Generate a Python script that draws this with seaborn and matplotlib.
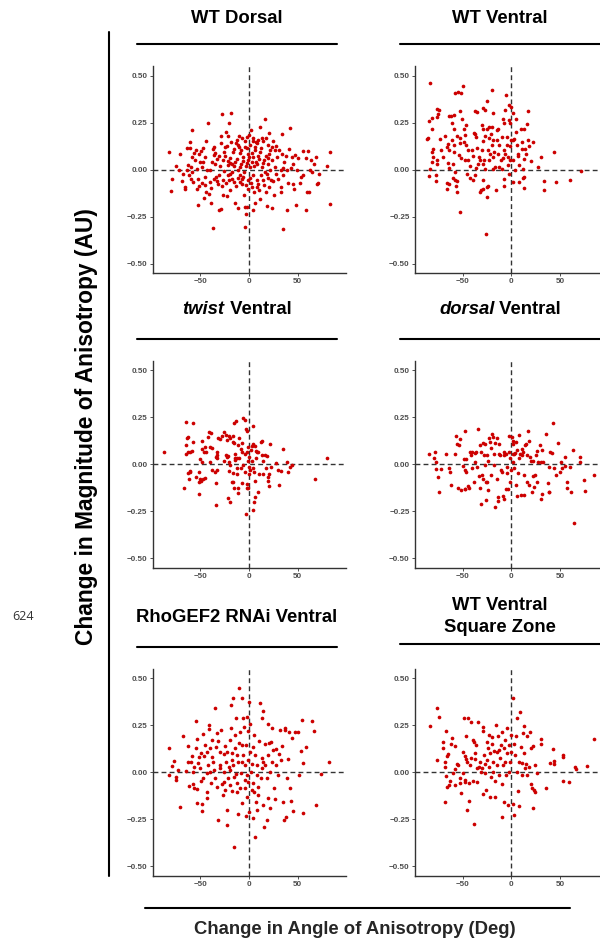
import matplotlib
matplotlib.use("Agg")
import pandas as pd
import seaborn as sns
from matplotlib import pyplot as plt
from matplotlib.lines import Line2D

# (change in angle [deg], change in magnitude [AU])
wt_dorsal = [
    (-82, 0.094), (-80, -0.114), (-79, -0.052), (-75, 0.021), (-71, 0.082), (-69, -0.06), (-66, -0.09),
    (-66, -0.1), (-63.5, 0.117), (-61, 0.15), (-61, 0.117), (-58, 0.213), (-63, 0.023), (-60, 0.014),
    (-58, -0.012), (-62, -0.03), (-57, -0.067), (-52.5, -0.19), (-54, 0.103), (-51, 0.084), (-49.5, 0.1),
    (-47, 0.114), (-44, 0.151), (-42, 0.246), (-47, 0.043), (-52, -0.052), (-51, -0.085), (-48.5, -0.073),
    (-44, -0.116), (-46, -0.151), (-41, -0.128), (-39, -0.176), (-37, -0.308), (-39, -0.096), (-37, 0.11),
    (-35.5, 0.078), (-34.5, 0.032), (-34, -0.039), (-32, -0.078), (-31, -0.217), (-29, -0.208), (-28, 0.294),
    (-27, -0.135), (-29, 0.178), (-24, 0.2), (-21, 0.249), (-18, 0.299), (-22, 0.18), (-23, 0.128),
    (-22, 0.046), (-25.6, -0.005), (-20.5, -0.057), (-19, -0.11), (-23, -0.141), (-14, -0.176), (-11, -0.206),
    (-10.6, 0.181), (-11.6, 0.132), (-13.7, 0.142), (-16, 0.093), (-14, 0.041), (-9.6, 0.016), (-8.9, -0.03),
    (-7, -0.077), (-5, -0.137), (-4, -0.2), (-4.4, -0.306), (-3.4, -0.233), (-2.4, -0.196), (-3.8, 0.151),
    (-2.4, 0.117), (-1.4, 0.085), (0.3, 0.185), (2.4, 0.21), (3.8, 0.171), (6.8, 0.146), (7.8, 0.144),
    (11, 0.226), (16.4, 0.269), (14, 0.151), (17.4, 0.171), (20.8, 0.196), (25, 0.151), (27, 0.103),
    (34, 0.19), (41.6, 0.221), (41, 0.11), (38, 0.071), (43.7, 0.068), (46.8, 0.08), (55, 0.098),
    (61, 0.1), (58, 0.062), (64, 0.052), (67, 0.032), (68.6, 0.066), (80, 0.021), (82.6, 0.093),
    (83, -0.181), (72, -0.021), (70, -0.075), (71, -0.073), (61.4, -0.121), (59.7, -0.117), (58, -0.214),
    (48.5, -0.19), (46, -0.103), (44.7, -0.078), (39, -0.212), (34.5, -0.317), (32.4, -0.117), (26, -0.133),
    (23.5, -0.205), (18.8, -0.192), (11, -0.155), (5.8, -0.178), (3.8, -0.217), (3, -0.093), (9.2, -0.075),
    (14.7, -0.057), (20, -0.046), (28, -0.021), (32.8, -0.004), (35, 0.007), (38.6, 0.0), (42.7, 0.009),
    (48.8, -0.004), (53, -0.039), (55.6, -0.03), (62.5, -0.004), (65, -0.012),
    (-40, -0.004), (-33, 0.057), (-30, 0.018), (-27, 0.05), (-24.6, 0.073), (-22, 0.025), (-19.5, 0.064),
    (-17.4, -0.014), (-15.4, 0.018), (-12.6, 0.057), (-11, -0.004), (-8.5, 0.032), (-6.5, 0.068), (-5, -0.012),
    (-3, 0.018), (-1, 0.053), (1, 0.014), (2.7, 0.039), (4.4, 0.068), (6.5, 0.103), (8.5, 0.028),
    (10.6, 0.057), (13, 0.014), (15.4, 0.05), (17.4, 0.075), (19.8, 0.032), (22, -0.004), (24, 0.05),
    (26.6, 0.014), (29, 0.068), (31, 0.107), (33.4, 0.085), (1, -0.043), (4.4, -0.03), (7.8, -0.057),
    (12, -0.03), (18, -0.021), (23, -0.057), (-1, -0.057), (-5.8, -0.039), (-9, -0.066), (-13, -0.089),
    (-17, -0.048), (-22, -0.03), (-27, -0.057), (-31, -0.03), (-36, -0.048), (-40, -0.066), (-43, -0.004),
    (-45, -0.039), (-48.5, 0.014), (-53, 0.005), (-55, 0.05), (-58, 0.068), (-64, -0.004), (-68, -0.021),
    (-72, -0.004), (-24.6, 0.121), (-18.8, 0.148), (-8, 0.103), (-4, 0.121), (1, 0.13), (12, 0.117),
    (21.5, 0.103), (28, 0.125), (13, 0.171), (4.4, 0.151), (-7.5, 0.171), (-12.6, 0.157), (-2.4, 0.174),
    (-35, 0.09), (-31, 0.075), (-26, 0.094), (-20, 0.038), (-17, 0.03), (-9, 0.088), (-6, 0.045),
    (-2, 0.035), (0.5, 0.066), (3.5, 0.09), (5, 0.018), (7, 0.04), (9.5, 0.075), (11.5, 0.095), (14, 0.036),
    (16, -0.01), (19, 0.06), (21, 0.085), (-33, -0.06), (-28, -0.085), (-24, -0.07), (-19, -0.025),
    (-15, -0.065), (-11, -0.045), (-7, -0.05), (-3, -0.08), (-1, -0.1), (2, -0.07), (5, -0.12), (8, -0.09),
    (10, -0.11), (15, -0.08), (17, -0.12), (21, -0.09), (25, -0.06), (30, -0.05), (35, -0.03), (-45, 0.07),
    (-50, 0.04), (-56, 0.09), (-38, 0.04), (-36, 0.12), (-29, 0.14), (-15, 0.11), (-10, 0.12), (6, 0.12),
    (9, 0.16), (19, 0.13), (24, 0.12), (36, 0.04), (45, 0.03), (50, 0.06), (52, -0.07), (40, -0.07),
    (33, -0.09), (-60, -0.05), (-53, -0.1), (-45, -0.08),
]

wt_ventral = [
    (-83, 0.459), (-84, 0.258), (-85.6, 0.167), (-86, 0.164), (-81.5, 0.276), (-81, 0.219), (-80, 0.112),
    (-81, 0.093), (-80.5, 0.068), (-81, 0.041), (-83, 0.005), (-84, -0.032), (-77, -0.028), (-77, -0.06),
    (-76.7, 0.05), (-76.4, 0.032), (-76, 0.322), (-74, 0.317), (-76, 0.281), (-75, 0.294), (-73, 0.165),
    (-72, 0.107), (-70, 0.068), (-68.5, 0.178), (-66, 0.121), (-65, 0.139), (-64.4, 0.107), (-65, 0.034),
    (-64, 0.011), (-66, -0.071), (-64, -0.075), (-66, -0.1), (-64, 0.285), (-62, 0.285), (-58.6, 0.29),
    (-61, 0.246), (-59, 0.217), (-61, 0.157), (-59, 0.133), (-58.6, 0.094), (-59.6, 0.032), (-58, -0.012),
    (-60, -0.044), (-57.5, -0.057), (-55.5, -0.06), (-56.5, -0.089), (-55.5, -0.119), (-58, 0.406),
    (-55, 0.413), (-52, 0.407), (-50, 0.447), (-53, 0.313), (-55.5, 0.178), (-53, 0.142), (-52.7, 0.169),
    (-54, 0.077), (-52, 0.064), (-52.7, -0.226), (-50.7, 0.27), (-49, 0.217), (-47.6, 0.183), (-46, 0.238),
    (-49, 0.148), (-46, 0.13), (-44, 0.103), (-47, 0.05), (-44, 0.05), (-42, 0.018), (-45, -0.021),
    (-42.5, -0.043), (-39, -0.057), (-37.7, -0.03), (-38.7, 0.196), (-37, 0.311), (-35, 0.308),
    (-37.7, 0.192), (-36, 0.174), (-35, 0.117), (-40.7, 0.103), (-39, 0.071), (-33.6, 0.068), (-32, 0.05),
    (-34, 0.032), (-36, 0.011), (-32.5, -0.116), (-31, -0.11), (-29.5, 0.326), (-27, 0.32), (-30, 0.237),
    (-29, 0.219), (-27, 0.178), (-29.5, 0.153), (-30, 0.103), (-28, 0.05), (-29.5, 0.032), (-27, 0.005),
    (-29, -0.057), (-29, -0.101), (-25, 0.363), (-25, -0.093), (-25, -0.146), (-24, -0.089), (-26, -0.342),
    (-23, 0.228), (-24.7, 0.214), (-22.6, 0.171), (-24, 0.107), (-22, 0.082), (-23, 0.05), (-20, 0.423),
    (-18.5, 0.302), (-20, 0.228), (-21, 0.192), (-18.5, 0.157), (-20, 0.13), (-17.8, 0.094), (-19, 0.068),
    (-16.8, 0.014), (-18.5, 0.005), (-16, -0.107), (-15, 0.21), (-13.7, 0.219), (-14.4, 0.157), (-12.3, 0.13),
    (-13.4, 0.085), (-11, 0.05), (-12.7, 0.014), (-10, 0.005), (-9, 0.272), (-8, 0.246), (-10, 0.174),
    (-7.5, 0.107), (-6.5, 0.085), (-9, 0.064), (-7.5, -0.048), (-7, -0.087), (-5.8, 0.399), (-6, 0.32),
    (-4.8, 0.174), (-4, 0.13), (-3.8, 0.068), (-3.4, 0.023), (-2.7, -0.021), (-2, 0.342), (-0.7, 0.335),
    (-2, 0.267), (-1.4, 0.246), (-0.7, 0.157), (-1, 0.128), (-1.4, 0.05), (1.4, 0.053), (2, 0.299),
    (2, 0.157), (2.7, 0.165), (1.4, -0.066), (4, -0.004), (4.8, 0.272), (4.5, 0.201), (5.5, 0.13),
    (7, 0.085), (6.5, 0.071), (7.5, 0.023), (7.5, -0.066), (9.6, 0.219), (11, 0.148), (10.6, 0.11),
    (11.6, 0.005), (13, 0.214), (13, -0.039), (11.6, -0.043), (12.7, -0.098), (13, 0.057), (14.7, 0.082),
    (14.4, 0.112), (17, 0.31), (16.4, 0.242), (17.5, 0.16), (18, 0.125), (20, 0.044), (22.6, 0.146),
    (27.7, 0.014), (30, 0.068), (33.6, -0.06), (33.6, -0.107), (43.8, 0.094), (46, -0.068), (60, -0.057),
    (71.6, -0.005),
]

twist_ventral = [
    (-87, 0.064), (-66.6, -0.123), (-64.5, 0.227), (-57.7, 0.222), (-63.5, 0.139), (-62.5, 0.147),
    (-64.5, 0.103), (-65, 0.053), (-63, 0.068), (-61, 0.068), (-58.7, 0.071), (-62.8, -0.048), (-61, -0.039),
    (-60.4, -0.036), (-62, -0.075), (-57, 0.121), (-54, -0.066), (-51.5, -0.156), (-51, -0.092),
    (-49.5, -0.089), (-50, -0.075), (-47.4, -0.078), (-45.4, -0.071), (-51, -0.039), (-50, 0.028),
    (-48.5, 0.011), (-48, 0.126), (-48.7, 0.082), (-46, 0.064), (-45.4, 0.094), (-43.7, 0.068),
    (-42.3, 0.146), (-40.6, 0.174), (-38.6, 0.165), (-40.3, 0.09), (-38, 0.085), (-40, 0.014), (-38, -0.03),
    (-35, -0.039), (-33, -0.03), (-34, -0.1), (-34, -0.217), (-33, 0.064), (-32.4, 0.05), (-34, 0.041),
    (-32.4, 0.032), (-31.4, 0.142), (-30, 0.135), (-28, 0.153), (-26, 0.171), (-23.9, 0.156), (-21, 0.151),
    (-20, 0.139), (-23, 0.13), (-24, 0.05), (-23, 0.041), (-21.8, 0.046), (-25.6, 0.018), (-21, 0.014),
    (-20, -0.004), (-22, -0.178), (-21, -0.036), (-19.5, -0.199), (-17.4, -0.096), (-16, -0.092),
    (-15.4, -0.124), (-16.7, -0.048), (-16.7, 0.121), (-15.4, 0.112), (-16, 0.151), (-15.4, 0.218),
    (-13.3, 0.233), (-14, 0.053), (-14.7, 0.036), (-14, 0.023), (-12.6, 0.036), (-12.6, -0.053),
    (-12, -0.021), (-11.6, -0.124), (-11, -0.151), (-10.6, 0.139), (-11, 0.103), (-8.5, 0.08),
    (-9.9, 0.032), (-7.5, 0.112), (-7.2, 0.064), (-8, -0.021), (-7.5, -0.098), (-6.5, -0.004),
    (-5.8, 0.245), (-4, 0.236), (-4.4, 0.053), (-4, -0.043), (-3, 0.188), (-2.4, -0.105), (-2.4, -0.124),
    (-1.4, -0.128), (-2.7, -0.266), (-1.7, 0.178), (-1.7, 0.068), (-0.7, 0.094), (-1, 0.018),
    (-0.3, 0.041), (0.3, -0.012), (0.3, -0.053), (1, -0.03), (2.7, 0.1), (3.8, 0.107), (2.4, 0.076),
    (4.4, 0.206), (3, 0.018), (4.4, -0.021), (5, -0.039), (3.8, -0.245), (5, -0.202), (5.8, -0.174),
    (6.5, -0.089), (6.8, 0.071), (7, 0.032), (7.8, 0.068), (6.5, 0.1), (9.6, 0.064), (10, -0.053),
    (9.6, -0.149), (12, 0.121), (13, 0.126), (13.3, 0.05), (14.7, 0.018), (14.7, -0.05), (16.7, 0.05),
    (18, 0.044), (17.4, -0.018), (19, -0.066), (20.8, -0.115), (19.4, -0.089), (21.5, 0.107),
    (20.8, -0.053), (23, -0.012), (28, 0.005), (30, -0.032), (31, -0.11), (32.4, -0.034), (34.5, 0.082),
    (38.6, 0.011), (40, -0.039), (42, -0.012), (43.7, -0.004), (68, -0.075), (80, 0.032),
]

dorsal_ventral = [
    (-84, 0.053), (-79.5, 0.036), (-78, 0.064), (-77.7, 0.014), (-77.4, -0.027), (-74.7, -0.068),
    (-74.3, -0.149), (-72.6, -0.025), (-67, 0.053), (-64.4, -0.021), (-63.4, -0.043), (-62, -0.107),
    (-58, 0.053), (-57, 0.151), (-56, 0.107), (-54, 0.103), (-52.7, 0.133), (-55, -0.128), (-52, -0.135),
    (-50, -0.009), (-49, 0.027), (-48, 0.178), (-48, -0.133), (-47, -0.133), (-47, -0.03), (-46, 0.028),
    (-46, -0.039), (-44, -0.114), (-43, -0.128), (-42, 0.068), (-41, 0.05), (-40, 0.068), (-40, -0.021),
    (-38, -0.092), (-37, 0.059), (-36, 0.064), (-37, 0.014), (-35.6, -0.012), (-34, 0.188), (-33.6, -0.062),
    (-32.5, -0.124), (-32, 0.103), (-31.5, 0.068), (-31, -0.213), (-30.5, -0.057), (-29.5, -0.078),
    (-29, 0.112), (-27, 0.108), (-28, 0.05), (-27, -0.004), (-26, -0.092), (-26, -0.19), (-24.7, 0.05),
    (-24, 0.018), (-24.7, -0.096), (-23.6, -0.137), (-22.6, 0.142), (-22, 0.117), (-21, 0.085),
    (-20.5, -0.057), (-20, 0.16), (-18.5, 0.147), (-18, 0.053), (-17.5, -0.004), (-16.8, -0.226),
    (-16.4, 0.112), (-15, 0.142), (-15, -0.075), (-13.7, -0.172), (-14, -0.194), (-13, 0.053),
    (-12.3, 0.107), (-11.6, 0.05), (-11, -0.03), (-10, -0.043), (-9, -0.167), (-7, -0.185), (-8, 0.064),
    (-7, 0.05), (-5.5, 0.057), (-4.8, -0.048), (-4, -0.012), (-5.5, -0.133), (-3, -0.133), (-2, 0.151),
    (-2, 0.068), (-1.4, 0.032), (-1.4, -0.092), (-0.3, -0.03), (0.7, 0.147), (1.4, 0.124), (1.4, 0.057),
    (2, 0.107), (2, 0.011), (2.7, -0.021), (2.7, 0.053), (4, 0.059), (4.5, 0.117), (4.5, -0.107),
    (5.5, -0.167), (6, 0.076), (7.5, 0.156), (8, 0.036), (7, -0.048), (9, 0.053), (10, -0.163),
    (10.6, 0.082), (11, 0.05), (12, 0.068), (13, -0.057), (13.4, -0.163), (14, 0.103), (15, 0.107),
    (15.7, 0.05), (16.4, -0.092), (17.5, 0.178), (18, -0.11), (18.5, 0.124), (19, 0.041), (20.5, 0.018),
    (21, -0.149), (22, -0.06), (22.6, 0.018), (23, -0.119), (24, -0.057), (25, 0.05), (26, 0.073),
    (26.7, -0.092), (27.7, 0.011), (29.5, 0.103), (30, -0.185), (30.8, 0.014), (31, -0.156), (32, 0.076),
    (33, 0.011), (36, 0.16), (37.7, -0.098), (38.4, -0.146), (39, -0.149), (38.4, -0.014), (40, 0.068),
    (41.8, 0.06), (42.5, 0.218), (43.8, -0.021), (46, -0.057), (48, 0.114), (50, -0.043), (51.4, 0.014),
    (52.4, -0.018), (55, 0.041), (55.5, -0.009), (57, -0.096), (57.5, -0.123), (60, -0.012), (61, -0.146),
    (63.7, 0.076), (64.7, -0.311), (70, 0.012), (70.5, 0.041), (74.7, -0.082), (76, -0.142), (84.6, -0.057),
]

rhogef2_ventral = [
    (-82, 0.128), (-82, -0.014), (-79.5, 0.034), (-77, 0.06), (-75.4, -0.023), (-74.7, -0.041),
    (-72.4, 0.011), (-70.6, -0.183), (-67.9, 0.193), (-65, 0.007), (-62.5, 0.14), (-62.5, 0.057),
    (-61.4, -0.071), (-59, 0.057), (-58.7, 0.089), (-57.7, -0.064), (-56.7, -0.085), (-56, 0.03),
    (-54.6, 0.275), (-54.3, 0.131), (-53.6, 0.177), (-53, -0.163), (-53, -0.089), (-52, 0.048),
    (-51, 0.083), (-49.5, 0.101), (-48.5, -0.204), (-48, -0.17), (-47.4, 0.202), (-47, -0.032),
    (-46, 0.089), (-45, 0.145), (-43.3, -0.135), (-43.3, -0.103), (-42.7, 0.106), (-41.6, 0.039),
    (-40.6, 0.252), (-40.6, 0.23), (-40, 0.128), (-39, -0.059), (-38, 0.172), (-38, 0.083), (-36.5, 0.053),
    (-35.8, 0.012), (-35, 0.344), (-34.5, -0.028), (-34, 0.137), (-33, 0.207), (-32, -0.254),
    (-31.4, 0.167), (-30, 0.039), (-29.7, 0.106), (-29, 0.225), (-28, -0.064), (-27, -0.12), (-26, 0.004),
    (-25.6, 0.096), (-24.6, 0.142), (-23.5, 0.057), (-23, -0.2), (-22.5, -0.28), (-22, -0.032), (-21, 0.03),
    (-20, 0.172), (-19.5, -0.067), (-18.8, 0.358), (-18, 0.234), (-17.4, 0.101), (-16.7, 0.039),
    (-16, 0.394), (-15.7, -0.395), (-15.4, -0.023), (-14.7, 0.128), (-14, 0.199), (-13.3, 0.287),
    (-12.6, -0.103), (-12, -0.059), (-11, -0.223), (-11, 0.057), (-10, 0.447), (-10, 0.154), (-9.2, 0.216),
    (-8.5, -0.005), (-7.5, 0.394), (-7.5, -0.165), (-6.5, 0.092), (-5.8, 0.287), (-5, 0.243), (-4.4, 0.039),
    (-3.8, -0.041), (-3, -0.234), (-3, 0.145), (-2.4, -0.129), (-1.7, 0.296), (-1.4, 0.066), (-0.7, 0.22),
    (0.3, 0.372), (0.3, -0.209), (1, 0.11), (1.4, 0.259), (2.4, 0.004), (3, -0.094), (3.8, -0.059),
    (4.4, -0.245), (5, 0.199), (5.8, 0.092), (6.5, -0.342), (7, -0.156), (7.8, -0.202), (8.5, 0.039),
    (9.2, -0.121), (10, 0.167), (11, 0.371), (12, -0.032), (13, 0.074), (13.6, 0.287), (14, 0.326),
    (14.7, -0.174), (15.4, -0.289), (16, 0.151), (16.7, 0.039), (18, -0.254), (19, 0.26), (19.4, -0.138),
    (20, 0.092), (20.8, 0.158), (21.5, 0.004), (22, -0.191), (23, 0.16), (23.5, 0.234), (24, 0.057),
    (25, 0.119), (26, -0.085), (27, -0.142), (27.6, 0.039), (28, 0.124), (30, -0.014), (31, 0.096),
    (31.7, 0.225), (33, 0.066), (33.8, 0.142), (35, -0.156), (36, -0.252), (36.5, 0.225), (37, 0.234),
    (37.9, -0.238), (38.6, -0.032), (40, 0.071), (41.3, 0.216), (42, -0.085), (43, -0.152), (44, 0.181),
    (45.4, -0.204), (47.4, 0.216), (50, 0.216), (51.5, -0.014), (53, 0.113), (54.6, 0.278), (55, -0.218),
    (55.6, 0.05), (58.4, 0.137), (64.5, 0.273), (66.5, 0.222), (68.6, -0.174), (73.7, -0.007), (82, 0.057),
    (-40, 0.004), (-29.7, 0.021), (-19.5, 0.012), (-13.3, -0.011), (-7.5, 0.053), (-2.4, -0.014),
    (2.7, 0.043), (7.8, -0.014), (13, 0.021), (18, -0.032), (5, -0.103), (-0.7, -0.05), (-9.2, -0.082),
    (-26, -0.053), (-33, -0.078), (-24.6, -0.092), (-17.7, -0.101), (-4, -0.083), (9.6, -0.076),
    (14.7, 0.057), (-17.7, 0.066), (-23, 0.11), (-12.6, 0.092), (-7.5, 0.147), (4.4, 0.137), (-50, 0.021),
    (-57, 0.004), (-43, -0.005), (-49.5, -0.046),
]

wt_ventral_square = [
    (-83, 0.246), (-76.7, 0.344), (-74, 0.293), (-76, 0.066), (-70.5, 0.131), (-70, 0.163), (-68.5, 0.053),
    (-68.5, 0.03), (-67.5, 0.222), (-67.8, -0.156), (-67.5, -0.02), (-66.4, 0.089), (-66, -0.076),
    (-65, 0.096), (-63, -0.046), (-63.7, -0.067), (-61.6, 0.149), (-61, 0.184), (-60, -0.005), (-58, 0.142),
    (-58, 0.018), (-57.5, -0.067), (-56, 0.043), (-54.5, 0.039), (-53, -0.032), (-52.7, -0.059),
    (-51.7, -0.112), (-50, -0.005), (-49.3, 0.106), (-49, 0.287), (-48, -0.041), (-47.6, -0.05), (-47, 0.089),
    (-46.6, 0.195), (-46, 0.071), (-45.5, -0.2), (-45, 0.057), (-44, 0.291), (-43.8, -0.059), (-43.5, -0.15),
    (-42.5, 0.039), (-41.8, 0.075), (-41, 0.27), (-39.7, 0.172), (-39.4, -0.046), (-38.7, -0.277),
    (-38.4, 0.16), (-37.7, 0.101), (-37, 0.069), (-36.3, 0.147), (-35.6, 0.021), (-35, -0.05), (-34.6, 0.27),
    (-33.6, 0.03), (-32, 0.057), (-31.5, 0.0), (-30.5, 0.021), (-29.5, -0.117), (-28.8, 0.243),
    (-28.8, 0.218), (-28, 0.092), (-27.4, 0.046), (-27, -0.005), (-26, -0.094), (-25.3, 0.163),
    (-24.7, 0.066), (-24, 0.128), (-23.3, 0.03), (-22.6, 0.199), (-22.3, -0.133), (-22, 0.101),
    (-21, -0.023), (-20.2, 0.149), (-19.5, 0.19), (-19, 0.057), (-18.5, 0.004), (-17.8, 0.113),
    (-17, -0.046), (-16.4, -0.133), (-15.7, 0.252), (-15, 0.106), (-14.4, 0.039), (-13.4, 0.195),
    (-13, 0.117), (-12.3, -0.014), (-11.6, 0.078), (-11, 0.145), (-10, -0.064), (-10, 0.216),
    (-9.6, -0.239), (-9, 0.039), (-8, -0.156), (-7.5, 0.131), (-6.8, 0.172), (-6.5, 0.057), (-5.5, -0.014),
    (-4.8, 0.103), (-4, 0.234), (-3, -0.174), (-2.7, 0.004), (-2, 0.145), (-1.4, 0.057), (-0.7, 0.199),
    (0, 0.106), (1.4, 0.394), (2, -0.17), (2.4, -0.225), (2.7, 0.149), (3.8, 0.094), (4.5, 0.195),
    (5.5, 0.287), (6, 0.004), (7, -0.099), (7.5, 0.057), (8, -0.177), (9, 0.323), (9.6, 0.137),
    (10.6, 0.048), (11, -0.014), (11.6, 0.207), (12.7, 0.246), (13, 0.101), (14, 0.021), (15, 0.043),
    (15.7, 0.195), (16.4, -0.014), (18.5, 0.03), (19, 0.216), (20, -0.062), (20.5, 0.131), (21, -0.082),
    (22, 0.142), (22.6, -0.19), (23, -0.092), (24, -0.106), (24.6, 0.039), (26, -0.005), (30.8, 0.149),
    (30.8, 0.177), (36, -0.085), (39.7, 0.048), (43, 0.122), (43.8, 0.06), (44, 0.043), (52.7, 0.092),
    (52.7, 0.082), (53.4, -0.044), (59, -0.053), (65.4, 0.03), (66.4, 0.018), (78, 0.036), (85, 0.177),
]

x_ticks = [-50, 0, 50]
x_tick_labels = ["\u221250", "0", "50"]
y_ticks = [-0.5, -0.25, 0, 0.25, 0.5]
y_tick_labels = ["\u22120.50", "\u22120.25", "0.00", "0.25", "0.50"]

# title pieces: (text, style) per line
titles = [
    [[("WT Dorsal", "normal")]],
    [[("WT Ventral", "normal")]],
    [[("twist", "italic"), (" Ventral", "normal")]],
    [[("dorsal", "italic"), (" Ventral", "normal")]],
    [[("RhoGEF2 RNAi Ventral", "normal")]],
    [[("WT Ventral", "normal")], [("Square Zone", "normal")]],
]
datasets = [wt_dorsal, wt_ventral, twist_ventral, dorsal_ventral, rhogef2_ventral, wt_ventral_square]

sns.set_theme(style="white")
plt.rcParams["font.family"] = ["Liberation Sans", "DejaVu Sans"]

W, H = 600, 942
fig = plt.figure(figsize=(W / 100, H / 100), dpi=100)
fig.patch.set_facecolor("white")


def fx(x):
    return x / W


def fy(y):
    return 1 - y / H


col_left = [152.5, 414.8]
row_top = [66.3, 361.0, 669.0]
ax_w, ax_h = 193.0, 206.8
strip_x = [(136.7, 337.0), (400.0, 600.0)]
# baseline(s) of title lines and y of strip rule, per panel
title_base = [[23.3], [23.3], [314.0], [314.0], [622.3], [609.5, 632.0]]
rule_y = [44.3, 44.3, 339.0, 339.0, 646.7, 644.0]

RED = "#CC0000"
DARK = "#333333"
renderer = fig.canvas.get_renderer()

for i, (pts, title) in enumerate(zip(datasets, titles)):
    r, c = divmod(i, 2)
    left, top = col_left[c], row_top[r]
    ax = fig.add_axes([fx(left), fy(top + ax_h), ax_w / W, ax_h / H])
    ax.patch.set_alpha(0)
    df = pd.DataFrame(pts, columns=["angle", "magnitude"])
    sns.scatterplot(data=df, x="angle", y="magnitude", ax=ax, color=RED, s=7,
                    linewidth=0, zorder=3)
    ax.axhline(0, color=DARK, lw=1.0, ls=(0, (3.5, 2.3)), zorder=2)
    ax.axvline(0, color=DARK, lw=1.0, ls=(0, (3.5, 2.3)), zorder=2)
    ax.set_xlim(-99, 99)
    ax.set_ylim(-0.55, 0.55)
    ax.set_xticks(x_ticks)
    ax.set_xticklabels(x_tick_labels)
    ax.set_yticks(y_ticks)
    ax.set_yticklabels(y_tick_labels)
    ax.set_xlabel("")
    ax.set_ylabel("")
    ax.tick_params(bottom=True, left=True, length=2.2, width=0.6, colors=DARK,
                   labelsize=5.8, labelcolor="#4D4D4D", pad=1.5)
    for lab in ax.get_xticklabels() + ax.get_yticklabels():
        lab.set_fontweight("bold")
    for side in ["top", "right"]:
        ax.spines[side].set_visible(False)
    for side in ["left", "bottom"]:
        ax.spines[side].set_color(DARK)
        ax.spines[side].set_linewidth(1.0)

    # strip title, centred over its rule; italic pieces drawn separately
    cx = (strip_x[c][0] + strip_x[c][1]) / 2
    for line, base in zip(title, title_base[i]):
        pieces = []
        for txt, style in line:
            t = fig.text(0, fy(base), txt, fontsize=13.3, fontweight="bold",
                         fontstyle=style, color="black", va="baseline", ha="left")
            pieces.append(t)
        widths = [p.get_window_extent(renderer).width for p in pieces]
        x0 = cx - sum(widths) / 2
        for p, w in zip(pieces, widths):
            p.set_x(fx(x0))
            x0 += w
    fig.add_artist(Line2D([fx(strip_x[c][0]), fx(strip_x[c][1])], [fy(rule_y[i])] * 2,
                          color="black", lw=1.5))

# shared axis titles with their rules
fig.add_artist(Line2D([fx(108.5)] * 2, [fy(32), fy(876)], color="black", lw=1.5))
fig.text(fx(87), fy(427), "Change in Magnitude of Anisotropy (AU)", rotation=90,
         fontsize=16.4, fontweight="bold", color="black", ha="center", va="center")
fig.add_artist(Line2D([fx(145), fx(570)], [fy(908)] * 2, color="black", lw=1.5))
fig.text(fx(355), fy(929), "Change in Angle of Anisotropy (Deg)",
         fontsize=13.3, fontweight="bold", ha="center", va="center")
fig.text(fx(23), fy(616), "624", fontsize=9, color=DARK, family=["Open Sans", "DejaVu Sans"],
         ha="center", va="center")

fig.savefig("out.png", dpi=100)
